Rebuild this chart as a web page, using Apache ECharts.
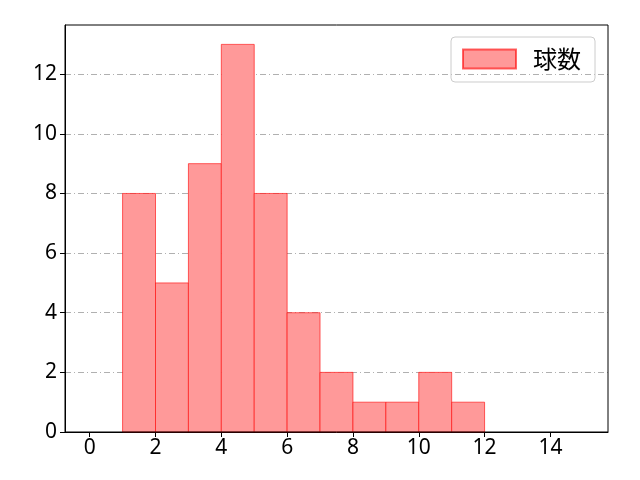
<!DOCTYPE html>
<html lang="ja">
<head>
<meta charset="UTF-8">
<title>球数</title>
<script src="https://cdn.jsdelivr.net/npm/echarts@6/dist/echarts.min.js"></script>
<style>html,body{margin:0;padding:0;background:#fff;}</style>
</head>
<body>
<div id="main" style="width:640px;height:480px;"></div>
<script type="text/javascript">
// histogram bins (left edge, right edge) and counts
const binStart = [1, 2, 3, 4, 5, 6, 7, 8, 9, 10, 11];
const binEnd = [2, 3, 4, 5, 6, 7, 8, 9, 10, 11, 12];
const counts = [8, 5, 9, 13, 8, 4, 2, 1, 1, 2, 1];
const xTicks = [0, 2, 4, 6, 8, 10, 12, 14];
const yTicks = [0, 2, 4, 6, 8, 10, 12];
const seriesName = '球数';

const data = binStart.map((s, i) => [s, binEnd[i], counts[i]]);

const font = 'Noto Sans, Noto Sans CJK JP, sans-serif';

let myChart = echarts.init(document.getElementById('main'));
myChart.setOption({
  animation: false,
  grid: { left: 65, right: 32, top: 25, bottom: 48 },
  legend: {
    data: [{ name: seriesName, icon: 'rect' }],
    right: 45, top: 37,
    itemWidth: 53, itemHeight: 19, itemGap: 20,
    padding: [10, 14, 11, 11],
    borderColor: '#cccccc', borderWidth: 1, borderRadius: 4,
    textStyle: { fontSize: 24, color: '#000', fontFamily: 'Noto Sans CJK JP', padding: [0, 0, 0, 12] }
  },
  xAxis: {
    type: 'value', min: -0.75, max: 15.75,
    axisLine: { show: true, onZero: false, lineStyle: { color: '#000' } },
    axisTick: { show: true, length: 5, customValues: xTicks, lineStyle: { color: '#000' } },
    axisLabel: { fontSize: 21, color: '#000', fontFamily: font, margin: 6, customValues: xTicks },
    splitLine: { show: false }
  },
  yAxis: {
    type: 'value', min: 0, max: 13.65,
    axisLine: { show: true, onZero: false, lineStyle: { color: '#000' } },
    axisTick: { show: true, length: 5, customValues: yTicks, lineStyle: { color: '#000' } },
    axisLabel: { fontSize: 21, color: '#000', fontFamily: font, margin: 8, customValues: yTicks },
    splitLine: { show: false }
  },
  series: [{
    // horizontal grid lines at the y ticks, drawn behind the bars
    type: 'line', silent: true, symbol: 'none', data: [],
    markLine: {
      silent: true, symbol: 'none', label: { show: false }, z: 0,
      lineStyle: { color: '#b0b0b0', type: [6, 3, 1, 3], width: 1 },
      data: yTicks.filter(v => v > 0).map(v => ({ yAxis: v }))
    }
  }, {
    name: seriesName,
    type: 'custom',
    z: 3,
    itemStyle: { color: '#ff9999', borderColor: 'rgba(255,0,0,0.6)', borderWidth: 1 },
    renderItem: function (params, api) {
      const p0 = api.coord([api.value(0), api.value(2)]);
      const p1 = api.coord([api.value(1), 0]);
      return {
        type: 'rect',
        shape: { x: p0[0], y: p0[1], width: p1[0] - p0[0], height: p1[1] - p0[1] },
        style: { fill: '#ff9999', stroke: 'rgba(255,0,0,0.6)', lineWidth: 1 }
      };
    },
    encode: { x: [0, 1], y: 2 },
    data: data
  }],
  // top and right spines
  graphic: [{
    type: 'rect', shape: { x: 65, y: 25, width: 543, height: 407 },
    style: { fill: 'none', stroke: '#000', lineWidth: 1 }, silent: true, z: 100
  }]
});
</script>
</body>
</html>
